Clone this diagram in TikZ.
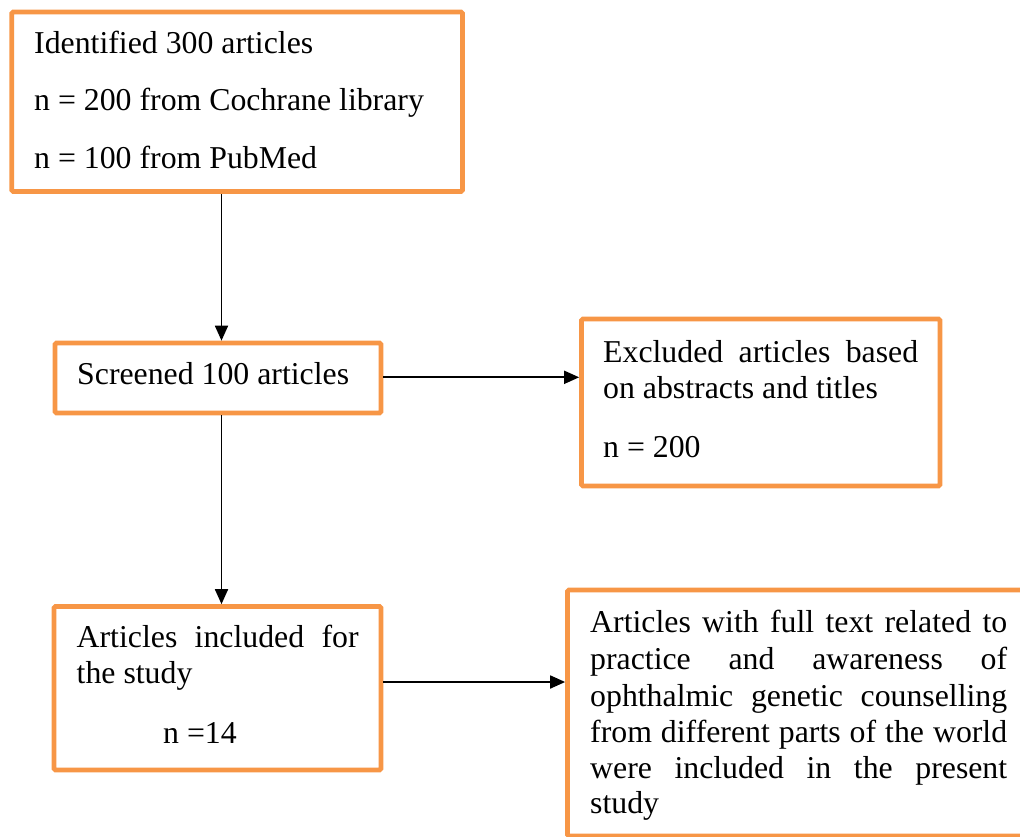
\documentclass[tikz,border=0pt]{standalone}
\usepackage{fontspec}
\setmainfont{Liberation Serif}
\usetikzlibrary{arrows.meta}
\definecolor{boxorange}{HTML}{F79646}
\begin{document}
\begin{tikzpicture}[x=1pt,y=-1pt,
  box/.style={draw=boxorange, line width=4.7pt, rounded corners=1.5pt, fill=white, inner sep=0pt},
  txt/.style={anchor=base west, inner sep=0pt, font=\fontsize{31.8}{36}\selectfont},
  arr/.style={draw=black, line width=1.8pt, -{Triangle[length=15pt,width=13pt]}}]
\clip (0,0) rectangle (1020,836);
% boxes
\node[box, minimum width=450.8pt, minimum height=179.5pt] (b1) at (237.1,101.75) {};
\node[box, minimum width=326pt, minimum height=70pt] (b2) at (218,378) {};
\node[box, minimum width=358.5pt, minimum height=167pt] (b3) at (760.75,402.5) {};
\node[box, minimum width=327pt, minimum height=163.5pt] (b4) at (217.5,688.25) {};
\node[box, minimum width=462.5pt, minimum height=246pt] (b5) at (798.75,713) {};
% texts
\node[txt] (t1a) at (34,53) {Identified 300 articles};
\node[txt] (t1b) at (34,110.5) {n = 200 from Cochrane library};
\node[txt] (t1c) at (34,168) {n = 100 from PubMed};
\node[txt] (t2a) at (77,384) {Screened 100 articles};
\node[txt] (t3a) at (603,362) {\makebox[315pt][s]{Excluded articles based}};
\node[txt] (t3b) at (603,398) {on abstracts and titles};
\node[txt] (t3c) at (603,457) {n = 200};
\node[txt] (t4a) at (76.5,647) {\makebox[282pt][s]{Articles included for}};
\node[txt] (t4b) at (76.5,683) {the study};
\node[txt] (t4c) at (163,743) {n =14};
\node[txt] (t5a) at (590,632) {\makebox[417pt][s]{Articles with full text related to}};
\node[txt] (t5b) at (590,669) {\makebox[417pt][s]{practice and awareness of}};
\node[txt] (t5c) at (590,706) {\makebox[417pt][s]{ophthalmic genetic counselling}};
\node[txt] (t5d) at (590,742) {\makebox[417pt][s]{from different parts of the world}};
\node[txt] (t5e) at (590,778) {\makebox[417pt][s]{were included in the present}};
\node[txt] (t5f) at (590,813) {study};
% connectors
\draw[arr] (b1.south -| 221.5,0) -- (b2.north -| 221.5,0);
\draw[arr] (b2.south -| 221.5,0) -- (b4.north -| 221.5,0);
\draw[arr] (b2.east |- 0,377.3) -- (b3.west |- 0,377.3);
\draw[arr] (b4.east |- 0,682) -- (b5.west |- 0,682);
\end{tikzpicture}
\end{document}
